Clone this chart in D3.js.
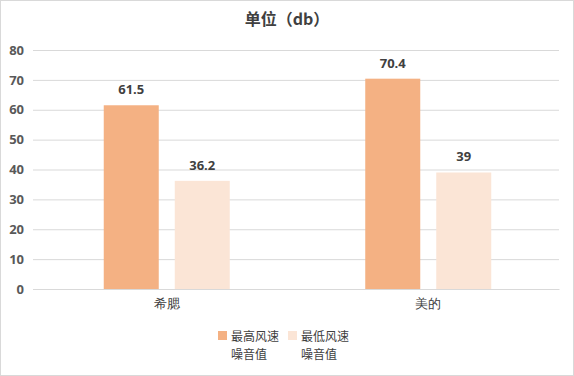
<!DOCTYPE html>
<html lang="zh">
<head>
<meta charset="UTF-8">
<title>单位（db）</title>
<script src="https://cdn.jsdelivr.net/npm/d3@7/dist/d3.min.js"></script>
<style>
  body { margin: 0; background: #fff; }
  svg { display: block; font-family: "Noto Sans CJK SC", "Noto Sans", sans-serif; }
</style>
</head>
<body>
<script>
// 数据
const categories = ["希腮", "美的"];
const seriesNames = ["最高风速\n噪音值", "最低风速\n噪音值"];
const maxNoise = [61.5, 70.4];
const minNoise = [36.2, 39];
const yTicks = [0, 10, 20, 30, 40, 50, 60, 70, 80];
const colors = ["#F4B183", "#FBE5D6"];

const width = 574, height = 376;
const margin = {top: 50, right: 15, bottom: 87, left: 36};

const svg = d3.select("body").append("svg")
  .attr("width", width).attr("height", height)
  .attr("viewBox", [0, 0, width, height]);

// 外框
svg.append("rect")
  .attr("x", 0.5).attr("y", 0.5)
  .attr("width", width - 1).attr("height", height - 1)
  .attr("fill", "#fff").attr("stroke", "#d9d9d9");

const x0 = d3.scaleBand().domain(categories)
  .range([margin.left, width - margin.right]);
const gw = 126; // 两根柱子加间隔
const x1 = d3.scaleBand().domain([0, 1])
  .range([(x0.bandwidth() - gw) / 2, (x0.bandwidth() + gw) / 2])
  .paddingInner(16 / 71);

const y = d3.scaleLinear().domain([0, 80])
  .range([height - margin.bottom, margin.top]);

// 网格线 + y轴
svg.append("g")
  .attr("transform", `translate(${margin.left - 3},0)`)
  .call(d3.axisLeft(y).tickValues(yTicks).tickSize(-(width - margin.left - margin.right + 3)).tickPadding(9))
  .call(g => g.select(".domain").remove())
  .call(g => g.selectAll(".tick line").attr("stroke", "#d9d9d9"))
  .call(g => g.selectAll(".tick text")
    .attr("fill", "#595959").attr("font-size", 13).attr("font-weight", "bold")
    .attr("font-family", "'Open Sans', sans-serif"));

// 柱子
const rows = categories.map((c, i) => ({c, v: [maxNoise[i], minNoise[i]]}));
const grp = svg.append("g").selectAll("g").data(rows).join("g")
  .attr("transform", d => `translate(${x0(d.c)},0)`);

grp.selectAll("rect").data(d => d.v).join("rect")
  .attr("x", (d, i) => x1(i))
  .attr("y", d => y(d))
  .attr("width", x1.bandwidth())
  .attr("height", d => y(0) - y(d))
  .attr("fill", (d, i) => colors[i]);

grp.selectAll("text").data(d => d.v).join("text")
  .attr("x", (d, i) => x1(i) + x1.bandwidth() / 2)
  .attr("y", d => y(d) - 11)
  .attr("text-anchor", "middle")
  .attr("fill", "#404040").attr("font-size", 13).attr("font-weight", "bold")
  .attr("font-family", "'Open Sans', sans-serif")
  .text(d => d);

// x轴
svg.append("g")
  .attr("transform", `translate(0,${y(0)})`)
  .call(d3.axisBottom(x0).tickSize(0).tickPadding(10))
  .call(g => g.select(".domain").attr("stroke", "#d9d9d9"))
  .call(g => g.selectAll(".tick text")
    .attr("fill", "#404040").attr("font-size", 13));

// 标题
svg.append("text")
  .attr("x", width / 2).attr("y", 25)
  .attr("text-anchor", "middle")
  .attr("fill", "#404040").attr("font-size", 16).attr("font-weight", "bold")
  .text("单位（db）");

// 图例（每行单独一个text）
const legend = svg.append("g").selectAll("g").data(seriesNames).join("g")
  .attr("transform", (d, i) => `translate(${218 + i * 70},331)`);
legend.append("rect")
  .attr("width", 9).attr("height", 9)
  .attr("fill", (d, i) => colors[i]);
legend.selectAll("text").data(d => d.split("\n")).join("text")
  .attr("x", 13).attr("y", (d, i) => 10 + i * 17.5)
  .attr("fill", "#404040").attr("font-size", 12)
  .text(d => d);
</script>
</body>
</html>
